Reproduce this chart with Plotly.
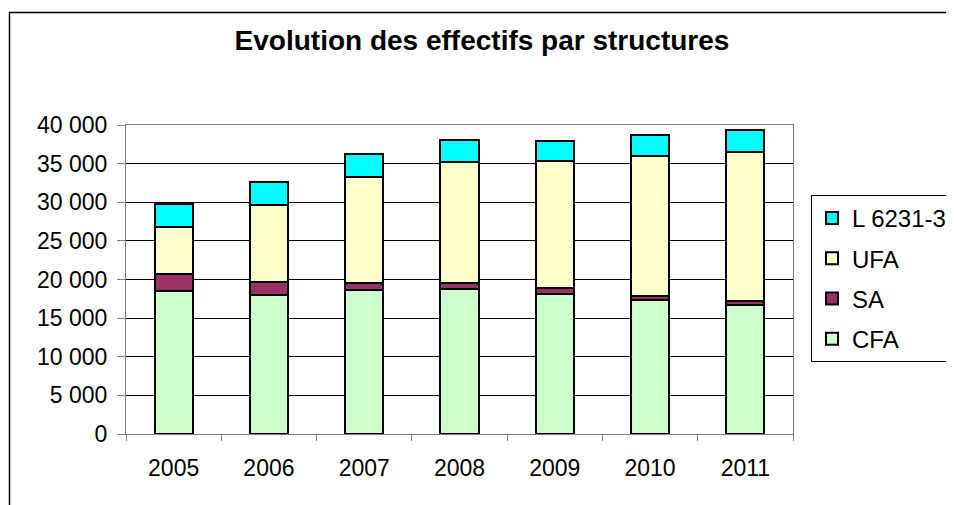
import plotly.graph_objects as go

years = ["2005", "2006", "2007", "2008", "2009", "2010", "2011"]
cfa = [18500, 18000, 18600, 18800, 18100, 17300, 16700]
sa = [2200, 1700, 1000, 700, 800, 600, 500]
ufa = [6100, 9900, 13700, 15700, 16400, 18100, 19300]
l6231 = [3000, 3000, 2900, 2900, 2600, 2700, 2900]

series = [("CFA", cfa, "#CCFFCC", 4), ("SA", sa, "#993366", 3),
          ("UFA", ufa, "#FFFFCC", 2), ("L 6231-3", l6231, "#00FFFF", 1)]

FONT = "Liberation Sans, Arial, sans-serif"
W, H = 946, 497
L, R, T, B = 118, 785, 117, 426
PW, PH = R - L, B - T


def px(xf):
    return (xf - L) / PW


def py(yf):
    return (B - yf) / PH


fig = go.Figure()
for name, vals, col, rank in series:
    fig.add_trace(go.Bar(
        x=years, y=vals, name=name, legendgroup=name, legendrank=rank,
        marker=dict(color=col, line=dict(color="black", width=2)),
        width=0.4,
    ))

fig.update_layout(
    barmode="stack",
    width=W, height=H,
    margin=dict(l=L, r=W - R, t=T, b=H - B, autoexpand=False),
    paper_bgcolor="white", plot_bgcolor="white",
    font=dict(family=FONT, size=23, color="black"),
    separators=", ",
    title=dict(text="<b>Evolution des effectifs par structures</b>",
               x=474 / W, xanchor="center", y=1 - 42 / H, yanchor="bottom",
               font=dict(family=FONT, size=28, color="black")),
    showlegend=True,
    legend=dict(x=px(803), xanchor="left",
                y=py(187), yanchor="top",
                traceorder="grouped", tracegroupgap=6,
                bordercolor="black", borderwidth=1, bgcolor="white",
                font=dict(family=FONT, size=24)),
    xaxis=dict(type="category", showline=True, linecolor="#808080", linewidth=1,
               mirror=True, ticks="outside", tickson="boundaries", ticklen=6,
               tickcolor="#808080", showgrid=False, ticklabelstandoff=13,
               tickfont=dict(family=FONT, size=23)),
    yaxis=dict(range=[0, 40000], dtick=5000, tickformat=",d",
               showline=True, linecolor="#808080", linewidth=1, mirror=True,
               ticks="outside", ticklen=8, tickcolor="#808080",
               showgrid=True, gridcolor="black", gridwidth=1,
               zeroline=False, ticklabelstandoff=5,
               tickfont=dict(family=FONT, size=23)),
    shapes=[
        dict(type="line", xref="paper", yref="paper",
             x0=px(1), x1=px(W + 2), y0=py(4.5), y1=py(4.5),
             line=dict(color="black", width=1.5)),
        dict(type="line", xref="paper", yref="paper",
             x0=px(1.5), x1=px(1.5), y0=py(4.5), y1=py(H + 2),
             line=dict(color="black", width=1.5)),
    ],
)

fig.write_html("out.html")
